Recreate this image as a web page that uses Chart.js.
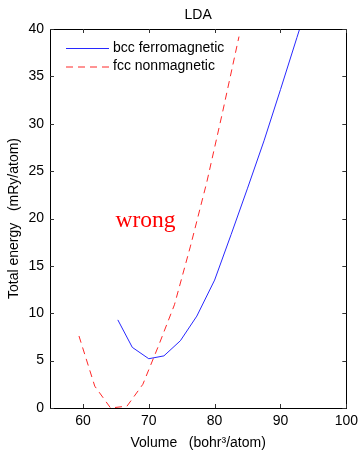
<!DOCTYPE html>
<html>
<head>
<meta charset="utf-8">
<script src="https://cdn.jsdelivr.net/npm/chart.js@4.4.1/dist/chart.umd.min.js"></script>
<style>
  html, body { margin: 0; padding: 0; background: #fff; }
  #wrap { width: 363px; height: 451px; }
</style>
</head>
<body>
<div id="wrap"><canvas id="myChart" width="363" height="451"></canvas></div>
<script>
/* data */
var bccVolume = [65.3, 67.5, 70.0, 72.3, 74.8, 77.3, 80.0, 82.5, 85.0, 87.5, 90.0, 92.5, 95.0];
var bccEnergy = [9.3, 6.4, 5.2, 5.5, 7.1, 9.7, 13.5, 18.3, 23.2, 28.2, 33.6, 39.1, 44.6];
var fccVolume = [59.4, 61.8, 64.2, 66.7, 69.1, 71.5, 73.9, 76.3, 78.8, 81.2, 83.7];
var fccEnergy = [7.6, 2.3, 0.0, 0.2, 2.5, 6.6, 10.9, 17.0, 23.8, 31.2, 39.2];
var xTickValues = [60, 70, 80, 90, 100];
var seriesNames = ['bcc ferromagnetic', 'fcc nonmagnetic'];
var chartTitle = 'LDA';
var xTitle = 'Volume   (bohr\u00b3/atom)';
var yTitle = 'Total energy   (mRy/atom)';
var noteText = 'wrong';

var FONT = '"Liberation Sans", Arial, Helvetica, sans-serif';

function toPoints(xs, ys) {
  var pts = [];
  for (var i = 0; i < xs.length; i++) pts.push({x: xs[i], y: ys[i]});
  return pts;
}

/* draws the box, inward ticks, titles, legend and note */
var decorPlugin = {
  id: 'decor',
  afterDraw: function(chart) {
    var ctx = chart.ctx;
    var a = chart.chartArea;
    var xs = chart.scales.x, ys = chart.scales.y;
    ctx.save();

    // box
    ctx.strokeStyle = '#000';
    ctx.lineWidth = 1;
    ctx.strokeRect(Math.round(a.left) + 0.5, Math.round(a.top) + 0.5,
                   Math.round(a.right - a.left), Math.round(a.bottom - a.top));

    // inward ticks
    ctx.strokeStyle = '#333';
    ctx.beginPath();
    xs.ticks.forEach(function(t) {
      var px = Math.round(xs.getPixelForValue(t.value)) + 0.5;
      ctx.moveTo(px, a.bottom); ctx.lineTo(px, a.bottom - 4);
      ctx.moveTo(px, a.top); ctx.lineTo(px, a.top + 4);
    });
    ys.ticks.forEach(function(t) {
      var py = Math.round(ys.getPixelForValue(t.value)) + 0.5;
      ctx.moveTo(a.left, py); ctx.lineTo(a.left + 4, py);
      ctx.moveTo(a.right, py); ctx.lineTo(a.right - 4, py);
    });
    ctx.stroke();

    // titles
    ctx.fillStyle = '#000';
    ctx.textAlign = 'center';
    ctx.textBaseline = 'middle';
    ctx.font = '14px ' + FONT;
    ctx.fillText(chartTitle, (a.left + a.right) / 2, 15);
    ctx.fillText(xTitle, (a.left + a.right) / 2, 443);
    ctx.save();
    ctx.translate(14, (a.top + a.bottom) / 2);
    ctx.rotate(-Math.PI / 2);
    ctx.fillText(yTitle, 0, 0);
    ctx.restore();

    // legend
    var ds = chart.data.datasets;
    ctx.textAlign = 'left';
    for (var i = 0; i < ds.length; i++) {
      var ly = 48 + i * 18.5;
      ctx.strokeStyle = ds[i].borderColor;
      ctx.lineWidth = 1;
      ctx.setLineDash(ds[i].borderDash || []);
      ctx.beginPath();
      ctx.moveTo(66, ly + 0.5); ctx.lineTo(109, ly + 0.5);
      ctx.stroke();
      ctx.setLineDash([]);
      ctx.fillStyle = '#000';
      ctx.font = '14px ' + FONT;
      ctx.fillText(seriesNames[i], 113, ly);
    }

    // note
    ctx.fillStyle = '#ff0000';
    ctx.font = '23.5px "Liberation Serif", "Times New Roman", serif';
    ctx.textAlign = 'center';
    ctx.fillText(noteText, xs.getPixelForValue(69.5), ys.getPixelForValue(19.8));

    ctx.restore();
  }
};

var config = {
  type: 'line',
  data: {
    datasets: [{
      label: seriesNames[0],
      data: toPoints(bccVolume, bccEnergy),
      borderColor: 'rgb(40, 40, 255)',
      borderWidth: 1,
      pointRadius: 0,
      tension: 0,
      fill: false
    }, {
      label: seriesNames[1],
      data: toPoints(fccVolume, fccEnergy),
      borderColor: 'rgb(255, 40, 40)',
      borderWidth: 1,
      borderDash: [7, 5],
      pointRadius: 0,
      tension: 0,
      fill: false
    }]
  },
  options: {
    responsive: false,
    animation: false,
    events: [],
    layout: { padding: { top: 29, right: 13, left: 0, bottom: 0 } },
    plugins: {
      legend: { display: false },
      title: { display: false },
      tooltip: { enabled: false }
    },
    scales: {
      x: {
        type: 'linear',
        min: 55,
        max: 100,
        afterBuildTicks: function(scale) {
          scale.ticks = xTickValues.map(function(v) { return {value: v}; });
        },
        afterFit: function(scale) { scale.height = 43; },
        grid: { display: false, drawTicks: false },
        border: { display: false },
        ticks: { color: '#000', font: { family: FONT, size: 14 }, padding: 5, maxRotation: 0 }
      },
      y: {
        type: 'linear',
        min: 0,
        max: 40,
        afterFit: function(scale) { scale.width = 50; },
        grid: { display: false, drawTicks: false },
        border: { display: false },
        ticks: { color: '#000', stepSize: 5, font: { family: FONT, size: 14 }, padding: 6 }
      }
    }
  },
  plugins: [decorPlugin]
};

window.onload = function() {
  var ctx = document.getElementById('myChart').getContext('2d');
  window.energyChart = new Chart(ctx, config);
};
</script>
</body>
</html>
